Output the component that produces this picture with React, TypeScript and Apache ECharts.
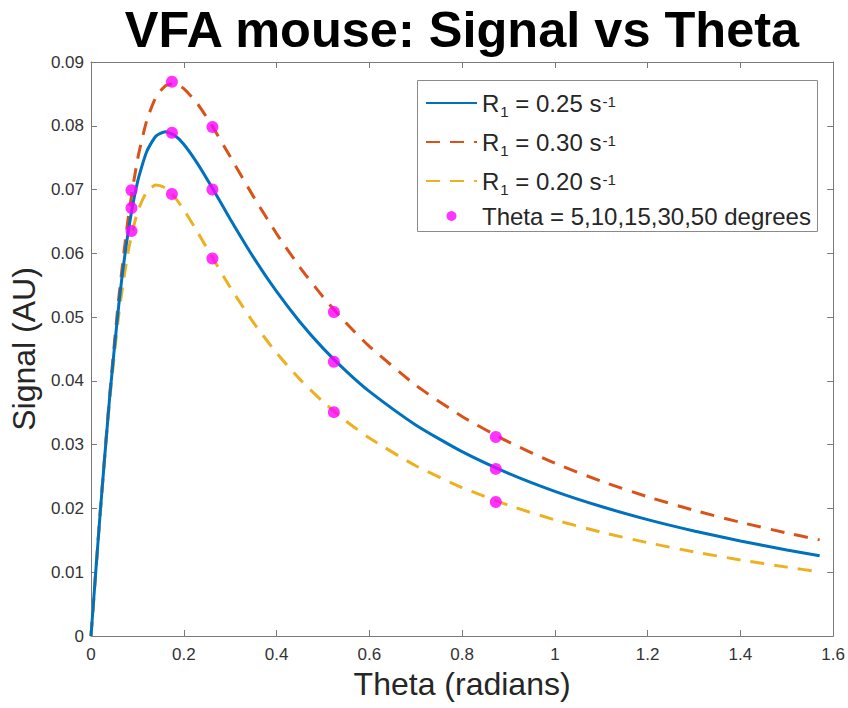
import React, { useEffect, useRef } from "react";
import * as echarts from "echarts";

// Flip angle samples (radians) along each simulated curve
const THETA = [
  0, 0.02, 0.04, 0.06, 0.08, 0.1, 0.12, 0.14, 0.16, 0.18, 0.2, 0.23, 0.26, 0.3,
  0.35, 0.4, 0.45, 0.5, 0.55, 0.6, 0.7, 0.8, 0.9, 1.0, 1.1, 1.2, 1.3, 1.4, 1.5,
  1.5708,
];

// Signal for R1 = 0.25 s^-1
const SIGNAL_R025 = [
  0, 0.01945, 0.0372, 0.05198, 0.06325, 0.0711, 0.07593, 0.07838, 0.07907,
  0.07851, 0.0771, 0.07403, 0.07043, 0.0654, 0.05941, 0.05402, 0.04928, 0.04514,
  0.04152, 0.03835, 0.03309, 0.0289, 0.0255, 0.02268, 0.0203, 0.01825, 0.01647,
  0.01489, 0.01349, 0.01258,
];

// Signal for R1 = 0.30 s^-1
const SIGNAL_R030 = [
  0, 0.0195, 0.03756, 0.05308, 0.06544, 0.07458, 0.08077, 0.08451, 0.08625,
  0.08657, 0.08582, 0.08341, 0.08011, 0.07517, 0.06893, 0.0631, 0.05785, 0.05319,
  0.04907, 0.04543, 0.03933, 0.03443, 0.03043, 0.02709, 0.02427, 0.02183,
  0.01971, 0.01783, 0.01615, 0.01507,
];

// Signal for R1 = 0.20 s^-1
const SIGNAL_R020 = [
  0, 0.01938, 0.03667, 0.05044, 0.06022, 0.06643, 0.06963, 0.0707, 0.07026,
  0.06885, 0.06685, 0.0633, 0.05956, 0.05469, 0.04918, 0.04439, 0.04028, 0.03674,
  0.0337, 0.03105, 0.0267, 0.02327, 0.0205, 0.01821, 0.01628, 0.01463, 0.01319,
  0.01193, 0.0108, 0.01007,
];

// Acquired flip angles: 5, 10, 15, 30, 50 degrees
const MARK_THETA = [0.0873, 0.1745, 0.2618, 0.5236, 0.8727];
const MARK_R025 = [0.0671, 0.0789, 0.07, 0.043, 0.0262];
const MARK_R030 = [0.0699, 0.0869, 0.0798, 0.0508, 0.0312];
const MARK_R020 = [0.0635, 0.0693, 0.0592, 0.0351, 0.021];

const NAME_R025 = "R₁ = 0.25 s⁻¹";
const NAME_R030 = "R₁ = 0.30 s⁻¹";
const NAME_R020 = "R₁ = 0.20 s⁻¹";
const NAME_MARKS = "Theta = 5,10,15,30,50 degrees";

const LEGEND_RICH: Record<string, string> = {
  [NAME_R025]: "{t|R}{sub|1}{t| = 0.25 s}{sup|-1}",
  [NAME_R030]: "{t|R}{sub|1}{t| = 0.30 s}{sup|-1}",
  [NAME_R020]: "{t|R}{sub|1}{t| = 0.20 s}{sup|-1}",
  [NAME_MARKS]: "{m|Theta = 5,10,15,30,50 degrees}",
};

const FONT = "'Liberation Sans', Arial, Helvetica, sans-serif";
const AXIS_COLOR = "#7a7a7a";
const LABEL_COLOR = "#333333";
const TEXT_COLOR = "#262626";

const zip = (xs: number[], ys: number[]) => xs.map((x, i) => [x, ys[i]]);

export default function App() {
  const ref = useRef<HTMLDivElement>(null);

  useEffect(() => {
    document.body.style.margin = "0";
    if (!ref.current) return;
    const chart = echarts.init(ref.current, undefined, { renderer: "svg" });

    const baseAxis = {
      type: "value" as const,
      axisLine: { show: true, onZero: false, lineStyle: { color: AXIS_COLOR, width: 1 } },
      axisTick: { show: true, inside: true, length: 6, lineStyle: { color: AXIS_COLOR } },
      splitLine: { show: false },
    };

    // line entries in the legend: keep only the stroke, hide the centre dot
    const lineLegendItem = (name: string) => ({ name, itemStyle: { opacity: 0 } });

    const option: echarts.EChartsOption = {
      animation: false,
      backgroundColor: "#ffffff",
      textStyle: { fontFamily: FONT },
      title: {
        text: "VFA mouse: Signal vs Theta",
        left: 457,
        textAlign: "center",
        top: -1,
        textStyle: { fontSize: 50.5, fontWeight: "bold", color: "#000", fontFamily: FONT },
      },
      grid: { left: 90, top: 62, width: 744, height: 574, containLabel: false },
      // legend frame
      graphic: [
        {
          type: "rect",
          z: 1,
          shape: { x: 417.5, y: 80.5, width: 400, height: 151 },
          style: { fill: "#ffffff", stroke: "#8a8a8a", lineWidth: 1 },
        },
      ],
      legend: {
        orient: "vertical",
        left: 425,
        top: 87,
        padding: 0,
        itemGap: 7,
        itemWidth: 51,
        itemHeight: 10,
        align: "left",
        z: 10,
        data: [
          lineLegendItem(NAME_R025),
          lineLegendItem(NAME_R030),
          lineLegendItem(NAME_R020),
          { name: NAME_MARKS, icon: "circle" },
        ],
        formatter: (name: string) => LEGEND_RICH[name] ?? name,
        textStyle: {
          fontFamily: FONT,
          fontSize: 24,
          color: TEXT_COLOR,
          rich: {
            t: { fontFamily: FONT, fontSize: 24, color: TEXT_COLOR, lineHeight: 30 },
            sub: {
              fontFamily: FONT, fontSize: 15, color: TEXT_COLOR, lineHeight: 30,
              padding: [17, 0, 0, 1],
            },
            sup: {
              fontFamily: FONT, fontSize: 15, color: TEXT_COLOR, lineHeight: 30,
              padding: [0, 0, 3, 1],
            },
            m: { fontFamily: FONT, fontSize: 24, color: TEXT_COLOR, lineHeight: 20 },
          },
        },
      },
      xAxis: [
        {
          ...baseAxis,
          min: 0,
          max: 1.6,
          interval: 0.2,
          position: "bottom",
          axisLabel: { fontSize: 17, color: LABEL_COLOR, margin: 10, fontFamily: FONT },
          name: "Theta (radians)",
          nameLocation: "middle",
          nameGap: 32,
          nameTextStyle: { fontSize: 32, color: TEXT_COLOR, fontFamily: FONT },
        },
        {
          ...baseAxis,
          min: 0,
          max: 1.6,
          interval: 0.2,
          position: "top",
          axisLabel: { show: false },
        },
      ],
      yAxis: [
        {
          ...baseAxis,
          min: 0,
          max: 0.09,
          interval: 0.01,
          position: "left",
          axisLabel: { fontSize: 17, color: LABEL_COLOR, margin: 7, fontFamily: FONT },
          name: "Signal (AU)",
          nameLocation: "middle",
          nameGap: 44,
          nameTextStyle: { fontSize: 32, color: TEXT_COLOR, fontFamily: FONT },
        },
        {
          ...baseAxis,
          min: 0,
          max: 0.09,
          interval: 0.01,
          position: "right",
          axisLabel: { show: false },
        },
      ],
      series: [
        {
          name: NAME_R025,
          type: "line",
          data: zip(THETA, SIGNAL_R025),
          symbol: "none",
          smooth: 0.2,
          color: "#0072BD",
          lineStyle: { color: "#0072BD", width: 3, type: "solid" },
          z: 3,
        },
        {
          name: NAME_R030,
          type: "line",
          data: zip(THETA, SIGNAL_R030),
          symbol: "none",
          smooth: 0.2,
          color: "#D95319",
          lineStyle: { color: "#D95319", width: 3, type: [14, 10] },
          z: 2,
        },
        {
          name: NAME_R020,
          type: "line",
          data: zip(THETA, SIGNAL_R020),
          symbol: "none",
          smooth: 0.2,
          color: "#EDB120",
          lineStyle: { color: "#EDB120", width: 3, type: [14, 10] },
          z: 2,
        },
        {
          name: NAME_MARKS,
          type: "scatter",
          data: [
            ...zip(MARK_THETA, MARK_R025),
            ...zip(MARK_THETA, MARK_R030),
            ...zip(MARK_THETA, MARK_R020),
          ],
          symbol: "circle",
          symbolSize: 12,
          color: "#FF00FF",
          itemStyle: { color: "#FF00FF" },
          z: 5,
        },
      ],
    };

    chart.setOption(option);
    return () => chart.dispose();
  }, []);

  return <div ref={ref} style={{ width: 848, height: 708 }} />;
}
